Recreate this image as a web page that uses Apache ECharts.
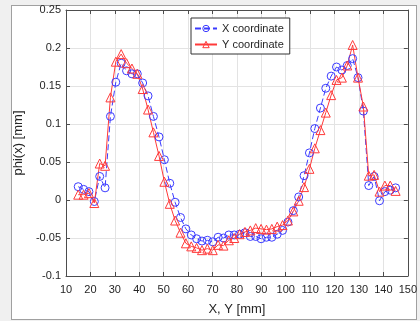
<!DOCTYPE html>
<html><head><meta charset="utf-8">
<script src="https://cdn.jsdelivr.net/npm/echarts@6/dist/echarts.min.js"></script>
<style>
html,body{margin:0;padding:0;background:#f0f0f0;}
#frame{position:absolute;left:11px;top:5px;width:404px;height:313px;background:#fff;border:1px solid #a0a0a0;}
#chart{position:absolute;left:0;top:0;width:420px;height:321px;}
</style></head>
<body><div id="frame"></div><div id="chart"></div>
<script>
const xVals = [15.0,17.2,19.4,21.6,23.8,26.0,28.2,30.4,32.6,34.8,37.0,39.2,41.4,43.6,45.8,48.1,50.3,52.5,54.7,56.9,
  59.1,61.3,63.5,65.7,67.9,70.1,72.3,74.5,76.7,78.9,81.1,83.3,85.5,87.7,89.9,92.1,94.3,96.5,98.7,100.9,
  103.1,105.3,107.5,109.7,111.9,114.2,116.4,118.6,120.8,123.0,125.2,127.4,129.6,131.8,134.0,136.2,138.4,140.6,142.8,145.0];
const xCoord = [0.0175,0.014,0.011,-0.002,0.031,0.016,0.110,0.155,0.180,0.170,0.166,0.166,0.154,0.137,0.110,0.083,0.053,0.022,-0.003,-0.023,
  -0.038,-0.046,-0.051,-0.054,-0.053,-0.055,-0.049,-0.050,-0.046,-0.046,-0.045,-0.043,-0.048,-0.048,-0.051,-0.049,-0.049,-0.045,-0.040,-0.029,
  -0.014,0.004,0.032,0.062,0.094,0.121,0.147,0.163,0.175,0.171,0.177,0.186,0.161,0.117,0.019,0.031,-0.001,0.011,0.013,0.016];
const yCoord = [0.007,0.007,0.009,-0.004,0.048,0.045,0.135,0.182,0.192,0.180,0.173,0.166,0.146,0.119,0.089,0.058,0.024,-0.005,-0.027,-0.043,
  -0.057,-0.061,-0.063,-0.066,-0.064,-0.066,-0.059,-0.060,-0.053,-0.050,-0.045,-0.042,-0.040,-0.037,-0.038,-0.039,-0.038,-0.035,-0.033,-0.027,
  -0.015,-0.001,0.017,0.041,0.068,0.092,0.115,0.138,0.158,0.161,0.177,0.204,0.161,0.123,0.032,0.033,0.011,0.019,0.019,0.012];
const seriesNames = ['X coordinate','Y coordinate'];
const xRange = [10,150,10];
const yRange = [-0.1,0.25,0.05];

const axisCol = '#4d4d4d';
const textCol = '#262626';
const blue = '#3a3aff', red = '#ff3a3a';
const chart = echarts.init(document.getElementById('chart'));
const baseX = {type:'value', min:xRange[0], max:xRange[1], interval:xRange[2],
  axisLine:{show:true,onZero:false,lineStyle:{color:axisCol,width:1}},
  axisTick:{show:true,inside:true,length:4,lineStyle:{color:axisCol}}};
const baseY = {type:'value', min:yRange[0], max:yRange[1], interval:yRange[2],
  axisLine:{show:true,onZero:false,lineStyle:{color:axisCol,width:1}},
  axisTick:{show:true,inside:true,length:4,lineStyle:{color:axisCol}}};
chart.setOption({
  animation:false,
  textStyle:{fontFamily:'Liberation Sans, Arial, sans-serif'},
  grid:{left:66,right:12,top:10,bottom:44,containLabel:false},
  legend:{left:191,top:18,orient:'vertical',itemWidth:22,itemHeight:8,itemGap:5,
    padding:[5,6,4,3],borderColor:'#333',borderWidth:1,backgroundColor:'#fff',
    textStyle:{fontSize:11,color:textCol},
    data:[
      {name:seriesNames[0],itemStyle:{color:'rgba(255,255,255,0)',borderColor:blue,borderWidth:1}},
      {name:seriesNames[1],itemStyle:{color:'rgba(255,255,255,0)',borderColor:red,borderWidth:1}}
    ]},
  xAxis:[
    Object.assign({},baseX,{position:'bottom',
      axisLabel:{color:textCol,fontSize:11,margin:8},
      splitLine:{show:true,lineStyle:{color:'#e3e3e3',width:1}},
      name:'X, Y [mm]',nameLocation:'middle',nameGap:27,
      nameTextStyle:{fontSize:13,color:textCol}}),
    Object.assign({},baseX,{position:'top',axisLabel:{show:false},splitLine:{show:false}})
  ],
  yAxis:[
    Object.assign({},baseY,{position:'left',
      axisLabel:{color:textCol,fontSize:11,margin:5,formatter:v=>String(+(+v).toFixed(2))},
      splitLine:{show:true,lineStyle:{color:'#e3e3e3',width:1}},
      name:'phi(x) [mm]',nameLocation:'middle',nameGap:35,
      nameTextStyle:{fontSize:13,color:textCol}}),
    Object.assign({},baseY,{position:'right',axisLabel:{show:false},splitLine:{show:false}})
  ],
  series:[
    {name:seriesNames[0],type:'line',data:xVals.map((x,i)=>[x,xCoord[i]]),
     symbol:'circle',symbolSize:8,
     itemStyle:{color:'rgba(255,255,255,0)',borderColor:blue,borderWidth:1},
     lineStyle:{color:blue,width:1,type:[6,3]},emphasis:{disabled:true}},
    {name:seriesNames[1],type:'line',data:xVals.map((x,i)=>[x,yCoord[i]]),
     symbol:'triangle',symbolSize:9,
     itemStyle:{color:'rgba(255,255,255,0)',borderColor:red,borderWidth:1},
     lineStyle:{color:red,width:1},emphasis:{disabled:true}}
  ]
});
</script></body></html>
